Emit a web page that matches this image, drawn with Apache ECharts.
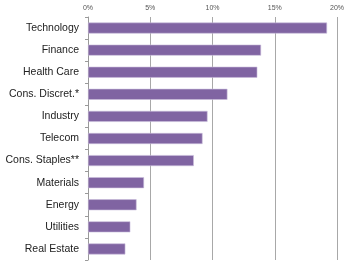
<!DOCTYPE html>
<html>
<head>
<meta charset="utf-8">
<script src="https://cdn.jsdelivr.net/npm/echarts@6/dist/echarts.min.js"></script>
<style>
  html, body { margin: 0; padding: 0; background: #fff; }
  #chart { width: 355px; height: 264px; }
</style>
</head>
<body>
<div id="chart"></div>
<script>
  // sectors, top to bottom
  const categories = ['Technology', 'Finance', 'Health Care', 'Cons. Discret.*', 'Industry', 'Telecom',
    'Cons. Staples**', 'Materials', 'Energy', 'Utilities', 'Real Estate']
  const values = [19.2, 13.9, 13.6, 11.2, 9.6, 9.2, 8.5, 4.5, 3.9, 3.4, 3.0]
  const tickValues = [0, 5, 10, 15, 20]

  let chart = echarts.init(document.getElementById('chart'))
  const option = {
    animation: false,
    grid: { left: 88, right: 18, top: 17, bottom: 4, containLabel: false },
    xAxis: {
      type: 'value',
      position: 'top',
      min: tickValues[0],
      max: tickValues[tickValues.length - 1],
      interval: 5,
      axisLine: { show: false },
      axisTick: { show: false },
      axisLabel: {
        formatter: '{value}%',
        fontFamily: 'Liberation Sans',
        fontSize: 7,
        color: '#555',
        margin: 5
      },
      splitLine: { lineStyle: { color: '#a8a8a8', width: 1 } }
    },
    yAxis: {
      type: 'category',
      inverse: true,
      data: categories,
      axisLine: { lineStyle: { color: '#9a9a9a' } },
      axisTick: { show: true, length: 3, lineStyle: { color: '#9a9a9a' } },
      axisLabel: {
        fontFamily: 'Liberation Sans',
        fontSize: 10.5,
        color: '#222',
        margin: 9
      }
    },
    series: [{
      type: 'bar',
      data: values,
      barWidth: 11,
      itemStyle: { color: '#8064a2', borderColor: '#c9bddb', borderWidth: 0.6 }
    }]
  }
  chart.setOption(option)
</script>
</body>
</html>
